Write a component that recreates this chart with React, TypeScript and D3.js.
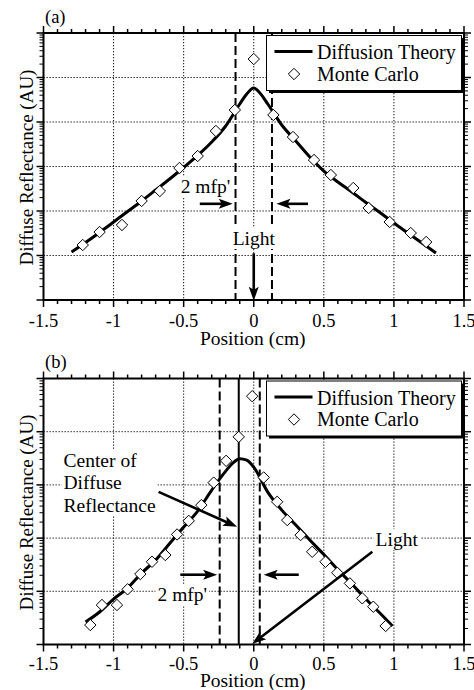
import React, { useLayoutEffect, useRef, useState } from "react";
import * as d3 from "d3";

const W = 474;
const H = 690;
const FONT = "'Liberation Serif', 'Times New Roman', Times, serif";

// ---- shared x axis ----
const xDomain = [-1.5, 1.5];
const xTickValues = [-1.5, -1, -0.5, 0, 0.5, 1, 1.5];
const xTickLabels = ["-1.5", "-1", "-0.5", "0", "0.5", "1", "1.5"];
const xLabel = "Position (cm)";
const yLabel = "Diffuse Reflectance (AU)";
const legendLabels = ["Diffusion Theory", "Monte Carlo"];

// ---- panel (a) ----
const aDecades = 6;
const aTheoryX = [-1.3, -1.2, -1.1, -1.0, -0.9, -0.8, -0.7, -0.6, -0.5, -0.4, -0.3, -0.2, -0.1, -0.05, 0, 0.05, 0.1, 0.2, 0.3, 0.4, 0.5, 0.6, 0.7, 0.8, 0.9, 1.0, 1.1, 1.2, 1.3];
const aTheoryR = [12.0, 19.6, 32.9, 56.6, 97.4, 168, 296, 524, 950, 1770, 3550, 8130, 25400, 42600, 58100, 42600, 25400, 8570, 3740, 1635, 792, 449, 267, 155, 92.5, 53.7, 32, 19.1, 11.4];
const aMcX = [-1.22, -1.10, -0.94, -0.80, -0.67, -0.53, -0.40, -0.27, -0.135, 0, 0.14, 0.28, 0.43, 0.55, 0.71, 0.82, 0.97, 1.12, 1.23];
const aMcR = [17.2, 33.7, 48.5, 168, 281, 925, 1720, 6280, 18600, 260000, 14400, 4600, 1400, 644, 329, 117, 56.6, 32, 20.1];
const aDashedX = [-0.13, 0.13];

// ---- panel (b) ----
const bDecades = 5;
const bTheoryX = [-1.2, -1.1, -1.0, -0.9, -0.8, -0.7, -0.6, -0.5, -0.4, -0.3, -0.2, -0.15, -0.1, -0.05, 0, 0.1, 0.2, 0.3, 0.4, 0.5, 0.6, 0.7, 0.8, 0.9, 0.99];
const bTheoryR = [2.65, 4.08, 7.15, 11.5, 22.0, 38.6, 78.9, 161, 322, 798, 1815, 2565, 3118, 2920, 2158, 731, 336, 176, 91.8, 49, 25.6, 13.7, 7.16, 3.9, 2.23];
const bMcX = [-1.166, -1.083, -0.976, -0.90, -0.809, -0.726, -0.631, -0.547, -0.464, -0.374, -0.286, -0.197, -0.107, -0.011, 0.071, 0.167, 0.239, 0.334, 0.417, 0.512, 0.596, 0.686, 0.774, 0.853, 0.941];
const bMcR = [2.32, 5.52, 5.52, 10.9, 21.1, 35.9, 48, 117, 211, 417, 1104, 2834, 8000, 46500, 1381, 481, 218, 114, 55.3, 35.9, 22.3, 14.1, 7.38, 5.13, 2.23];
const bDashedX = [-0.243, 0.043];
const bCenterX = -0.107;

type Scale = (v: number) => number;

function BgText({ x, y, lines, anchor = "start", lineHeight = 22.5, pad = 2, size = 19.5 }: any) {
  const ref = useRef<SVGTextElement>(null);
  const [bb, setBb] = useState<any>(null);
  useLayoutEffect(() => {
    if (ref.current) {
      const b = ref.current.getBBox();
      setBb({ x: b.x, y: b.y, w: b.width, h: b.height });
    }
  }, [x, y]);
  return (
    <g>
      {bb && <rect x={bb.x - pad} y={bb.y} width={bb.w + 2 * pad} height={bb.h} fill="white" />}
      <text ref={ref} x={x} y={y} textAnchor={anchor} fontSize={size} fontFamily={FONT} fill="#000">
        {lines.map((l: string, i: number) => (
          <tspan key={i} x={x} dy={i === 0 ? 0 : lineHeight}>{l}</tspan>
        ))}
      </text>
    </g>
  );
}

function Arrow({ x1, y1, x2, y2, w = 2.6, head = 14, hw = 5 }: any) {
  const ang = Math.atan2(y2 - y1, x2 - x1);
  const ux = Math.cos(ang), uy = Math.sin(ang);
  const nx = -uy, ny = ux;
  const bx = x2 - ux * head, by = y2 - uy * head;
  const notch = 3;
  const mx = x2 - ux * (head - notch), my = y2 - uy * (head - notch);
  const pts = [[x2, y2], [bx + nx * hw, by + ny * hw], [mx, my], [bx - nx * hw, by - ny * hw]];
  return (
    <g>
      <line x1={x1} y1={y1} x2={mx + ux} y2={my + uy} stroke="#000" strokeWidth={w} />
      <polygon points={pts.map((p) => p.join(",")).join(" ")} fill="#000" />
    </g>
  );
}

function Panel({ top, bottom, decades, theoryX, theoryR, mcX, mcR, label, annotations, tickDy, labelDy }: any) {
  const L = 43.5, R = 464;
  const x = d3.scaleLinear().domain(xDomain).range([L, R]);
  const y = d3.scaleLog().domain([1, Math.pow(10, decades)]).range([bottom, top]);

  const gridX = xTickValues.filter((v) => v > xDomain[0] && v < xDomain[1]);
  const gridY = d3.range(1, decades).map((d) => Math.pow(10, d));
  const minorX = d3.range(-15, 16).map((i) => i / 10).filter((v) => Math.abs(Math.round(v * 2) - v * 2) > 1e-6);
  const majorY = d3.range(0, decades + 1).map((d) => Math.pow(10, d));
  const minorY: number[] = [];
  for (let d = 0; d < decades; d++) for (let m = 2; m <= 9; m++) minorY.push(m * Math.pow(10, d));

  const pts = theoryX.map((v: number, i: number) => [v, theoryR[i]]);
  const line = d3.line<number[]>().x((d) => x(d[0])).y((d) => y(d[1])).curve(d3.curveMonotoneX);

  const diamond = (cx: number, cy: number, s = 5.7) => `M${cx},${cy - s}L${cx + s},${cy}L${cx},${cy + s}L${cx - s},${cy}Z`;

  const lx0 = R - 197.5, ly0 = top + 2.5, lw = 195, lh = 55;

  return (
    <g>
      {/* grid */}
      {gridX.map((v) => (
        <line key={"gx" + v} x1={x(v)} x2={x(v)} y1={top} y2={bottom} stroke="#111" strokeWidth={1} strokeDasharray="1.3,1.7" />
      ))}
      {gridY.map((v) => (
        <line key={"gy" + v} x1={L} x2={R} y1={y(v)} y2={y(v)} stroke="#111" strokeWidth={1} strokeDasharray="1.3,1.7" />
      ))}
      {annotations(x, y, "back")}
      {/* theory curve */}
      <path d={line(pts) || ""} fill="none" stroke="#000" strokeWidth={3} />
      {/* monte carlo */}
      {mcX.map((v: number, i: number) => (
        <path key={"mc" + i} d={diamond(x(v), y(mcR[i]))} fill="white" stroke="#000" strokeWidth={1} />
      ))}
      {annotations(x, y, "front")}
      {/* frame */}
      <rect x={L} y={top} width={R - L} height={bottom - top} fill="none" stroke="#000" strokeWidth={2} />
      {/* x ticks */}
      {minorX.map((v) => (
        <g key={"mx" + v}>
          <line x1={x(v)} x2={x(v)} y1={bottom} y2={bottom + 4} stroke="#000" strokeWidth={1.5} />
          <line x1={x(v)} x2={x(v)} y1={top} y2={top - 4} stroke="#000" strokeWidth={1.5} />
        </g>
      ))}
      {xTickValues.map((v) => (
        <g key={"Mx" + v}>
          <line x1={x(v)} x2={x(v)} y1={bottom} y2={bottom + 7} stroke="#000" strokeWidth={1.5} />
          <line x1={x(v)} x2={x(v)} y1={top} y2={top - 7} stroke="#000" strokeWidth={1.5} />
        </g>
      ))}
      {/* y ticks */}
      {minorY.map((v) => (
        <g key={"my" + v}>
          <line x1={L} x2={L - 4} y1={y(v)} y2={y(v)} stroke="#000" strokeWidth={1} />
          <line x1={R} x2={R + 4} y1={y(v)} y2={y(v)} stroke="#000" strokeWidth={1} />
        </g>
      ))}
      {majorY.map((v) => (
        <g key={"My" + v}>
          <line x1={L} x2={L - 7} y1={y(v)} y2={y(v)} stroke="#000" strokeWidth={1.5} />
          <line x1={R} x2={R + 7} y1={y(v)} y2={y(v)} stroke="#000" strokeWidth={1.5} />
        </g>
      ))}
      {/* tick labels */}
      {xTickValues.map((v, i) => (
        <text key={"tl" + v} x={x(v)} y={bottom + tickDy} textAnchor="middle" fontSize={18.5} fontFamily={FONT}>{xTickLabels[i]}</text>
      ))}
      <text x={(L + R) / 2 - 1} y={bottom + labelDy} textAnchor="middle" fontSize={19.5} fontFamily={FONT}>{xLabel}</text>
      <text transform={`translate(33,${(top + bottom) / 2 + 1}) rotate(-90)`} textAnchor="middle" fontSize={19} fontFamily={FONT}>{yLabel}</text>
      <text x={45} y={top - 10.5} fontSize={18.5} fontFamily={FONT}>{label}</text>
      {/* legend */}
      <rect x={lx0 + 2.5} y={ly0 + 2.5} width={lw} height={lh} fill="#000" />
      <rect x={lx0} y={ly0} width={lw} height={lh} fill="white" stroke="#000" strokeWidth={1} />
      <line x1={lx0 + 8} x2={lx0 + 46} y1={ly0 + 16} y2={ly0 + 16} stroke="#000" strokeWidth={3} />
      <text x={lx0 + 50.5} y={ly0 + 23.5} fontSize={20} fontFamily={FONT}>{legendLabels[0]}</text>
      <path d={diamond(lx0 + 27.5, ly0 + 38.5)} fill="white" stroke="#000" strokeWidth={1} />
      <text x={lx0 + 50.5} y={ly0 + 45} fontSize={20} fontFamily={FONT}>{legendLabels[1]}</text>
    </g>
  );
}

const dash = "9,4";

function annotationsA(x: Scale, y: Scale, layer: string) {
  if (layer === "back") {
    return (
      <g>
        {aDashedX.map((v) => (
          <line key={"d" + v} x1={x(v)} x2={x(v)} y1={y(1e6)} y2={y(1)} stroke="#000" strokeWidth={2} strokeDasharray={dash} />
        ))}
      </g>
    );
  }
  return (
    <g>
      <BgText x={x(-0.168)} y={y(254)} lines={["2 mfp'"]} anchor="end" />
      <Arrow x1={x(-0.385)} y1={y(145)} x2={x(-0.15)} y2={y(145)} />
      <Arrow x1={x(0.387)} y1={y(145)} x2={x(0.162)} y2={y(145)} />
      <BgText x={x(0)} y={y(17.2)} lines={["Light"]} anchor="middle" />
      <Arrow x1={x(0)} y1={y(11.2)} x2={x(0)} y2={y(0.96)} />
    </g>
  );
}

function annotationsB(x: Scale, y: Scale, layer: string) {
  if (layer === "back") {
    return (
      <g>
        {bDashedX.map((v) => (
          <line key={"d" + v} x1={x(v)} x2={x(v)} y1={y(1e5)} y2={y(1)} stroke="#000" strokeWidth={2} strokeDasharray={dash} />
        ))}
        <line x1={x(bCenterX)} x2={x(bCenterX)} y1={y(1e5)} y2={y(1)} stroke="#000" strokeWidth={2} />
      </g>
    );
  }
  return (
    <g>
      <BgText x={x(-1.357)} y={y(2188)} lines={["Center of", "Diffuse", "Reflectance"]} />
      <Arrow x1={x(-0.679)} y1={y(741)} x2={x(-0.119)} y2={y(163)} />
      <BgText x={x(-0.333)} y={y(6.56)} lines={["2 mfp'"]} anchor="end" />
      <Arrow x1={x(-0.524)} y1={y(20.5)} x2={x(-0.261)} y2={y(20.5)} />
      <Arrow x1={x(0.321)} y1={y(20.5)} x2={x(0.071)} y2={y(20.5)} />
      <BgText x={x(0.869)} y={y(70.8)} lines={["Light"]} />
      <Arrow x1={x(0.846)} y1={y(55.3)} x2={x(-0.011)} y2={y(1.03)} />
    </g>
  );
}

export default function App() {
  return (
    <svg width={W} height={H} viewBox={`0 0 ${W} ${H}`} style={{ position: "absolute", left: 0, top: 0, background: "white" }}>
      <rect x={0} y={0} width={W} height={H} fill="white" />
      <Panel top={33} bottom={300} decades={aDecades} theoryX={aTheoryX} theoryR={aTheoryR} mcX={aMcX} mcR={aMcR} label="(a)" annotations={annotationsA} tickDy={27} labelDy={45} />
      <Panel top={378.5} bottom={644.5} decades={bDecades} theoryX={bTheoryX} theoryR={bTheoryR} mcX={bMcX} mcR={bMcR} label="(b)" annotations={annotationsB} tickDy={25.5} labelDy={42.5} />
    </svg>
  );
}
